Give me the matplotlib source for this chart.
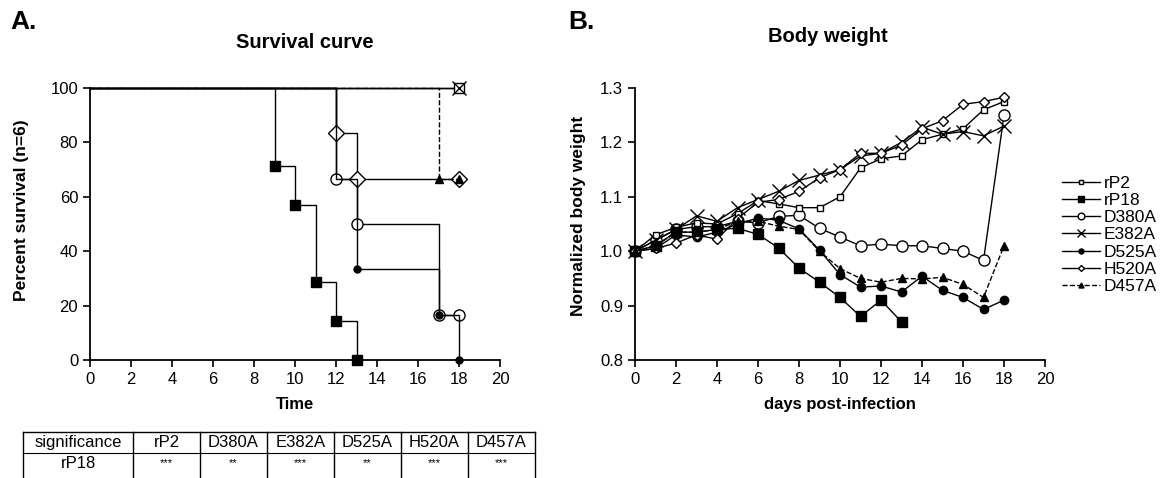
# -*- coding: utf-8 -*-
import numpy as np
import matplotlib.pyplot as plt
from matplotlib.lines import Line2D

plt.rcParams['font.family'] = ['Liberation Sans', 'DejaVu Sans']

# A. survival (time, percent) pour chaque groupe
rp2_t = [0, 18]
rp2_s = [100, 100]
rp18_t = [0, 9, 10, 11, 12, 13]
rp18_s = [100, 71.4, 57.1, 28.6, 14.3, 0]
d380a_t = [0, 12, 13, 17, 18]
d380a_s = [100, 66.7, 50, 16.7, 16.7]
e382a_t = [0, 18]
e382a_s = [100, 100]
d525a_t = [0, 12, 13, 17, 18]
d525a_s = [100, 66.7, 33.3, 16.7, 0]
h520a_t = [0, 12, 13, 18]
h520a_s = [100, 83.3, 66.7, 66.7]
d457a_t = [0, 17, 18]
d457a_s = [100, 66.7, 66.7]

# B. body weight
days = list(range(19))
rp2_w = [1.0, 1.03, 1.044, 1.052, 1.05, 1.069, 1.093, 1.087, 1.08, 1.08, 1.10,
         1.153, 1.17, 1.175, 1.205, 1.215, 1.225, 1.26, 1.275]
rp18_w = [1.0, 1.01, 1.035, 1.035, 1.04, 1.042, 1.031, 1.006, 0.969, 0.943,
          0.915, 0.880, 0.910, 0.870]
d380a_w = [1.0, 1.02, 1.04, 1.045, 1.045, 1.055, 1.052, 1.064, 1.066, 1.042,
           1.026, 1.01, 1.013, 1.01, 1.01, 1.005, 1.0, 0.983, 1.25]
e382a_w = [1.0, 1.02, 1.04, 1.065, 1.055, 1.08, 1.095, 1.11, 1.13, 1.14, 1.15,
           1.175, 1.18, 1.2, 1.228, 1.215, 1.22, 1.212, 1.23]
d525a_w = [1.0, 1.005, 1.03, 1.026, 1.035, 1.05, 1.061, 1.057, 1.041, 1.002,
           0.957, 0.934, 0.936, 0.925, 0.954, 0.928, 0.915, 0.893, 0.91]
h520a_w = [1.0, 1.005, 1.015, 1.03, 1.022, 1.06, 1.09, 1.095, 1.11, 1.135,
           1.15, 1.18, 1.18, 1.195, 1.225, 1.24, 1.27, 1.275, 1.283]
d457a_w = [1.0, 1.01, 1.035, 1.035, 1.04, 1.055, 1.055, 1.046, 1.04, 1.0,
           0.968, 0.95, 0.943, 0.95, 0.949, 0.952, 0.939, 0.915, 1.01]

# tableau de significativite
sig_row = 'rP18'
sig_cols = ['rP2', 'D380A', 'E382A', 'D525A', 'H520A', 'D457A']
sig_marks = ['***', '**', '***', '**', '***', '***']

W, H = 1163, 478
fig = plt.figure(figsize=(W / 100, H / 100), dpi=100)
axA = fig.add_axes([90 / W, 1 - 360 / H, 410 / W, 272 / H])
axB = fig.add_axes([635 / W, 1 - 360 / H, 410 / W, 272 / H])

for ax in (axA, axB):
    for s in ('top', 'right'):
        ax.spines[s].set_visible(False)
    for s in ('left', 'bottom'):
        ax.spines[s].set_linewidth(1.3)
    ax.tick_params(direction='out', length=5, width=1.2, labelsize=12)
    ax.set_xlim(0, 20)
    ax.set_xticks(np.arange(0, 21, 2))

k = dict(color='black', lw=1, clip_on=False)

def surv(t, s, marker, ms, mfc, ls='-', z=3, skip=()):
    axA.step(t, s, where='post', ls=ls, zorder=z, **k)
    idx = [i for i in range(1, len(t)) if i not in skip]
    axA.plot([t[i] for i in idx], [s[i] for i in idx], ls='none', marker=marker,
             ms=ms, mfc=mfc, mec='black', mew=1, clip_on=False, zorder=z + 1)

surv(rp2_t, rp2_s, 's', 7, 'white')
surv(e382a_t, e382a_s, 'x', 10, 'black')
surv(h520a_t, h520a_s, 'D', 8, 'white', z=5)
surv(d457a_t, d457a_s, '^', 6, 'black', ls='--', z=6)
surv(d380a_t, d380a_s, 'o', 8, 'white', z=5)
surv(d525a_t, d525a_s, 'o', 5, 'black', z=7, skip=(1,))
surv(rp18_t, rp18_s, 's', 7, 'black', z=7)

axA.set_ylim(0, 100)
axA.set_yticks(np.arange(0, 101, 20))
axA.set_xlabel('Time', fontsize=12, fontweight='bold')
axA.xaxis.set_label_coords(0.5, -0.135)
axA.set_ylabel('Percent survival (n=6)', fontsize=12.5, fontweight='bold')
axA.yaxis.set_label_coords(-0.15, 0.55)

lb = dict(color='black', lw=1, clip_on=False)
axB.plot(days, rp2_w, marker='s', ms=5, mfc='white', mec='black', label='rP2', zorder=4, **lb)
axB.plot(days[:len(rp18_w)], rp18_w, marker='s', ms=7, mfc='black', mec='black', label='rP18', zorder=4, **lb)
axB.plot(days, d380a_w, marker='o', ms=8, mfc='white', mec='black', label='D380A', zorder=3, **lb)
axB.plot(days, e382a_w, marker='x', ms=10, mew=1, mec='black', label='E382A', zorder=4, **lb)
axB.plot(days, d525a_w, marker='o', ms=6, mfc='black', mec='black', label='D525A', zorder=4, **lb)
axB.plot(days, h520a_w, marker='D', ms=5, mfc='white', mec='black', label='H520A', zorder=4, **lb)
axB.plot(days, d457a_w, marker='^', ms=6, mfc='black', mec='black', ls='--', label='D457A', zorder=4,
         color='black', lw=1, clip_on=False)

axB.set_ylim(0.8, 1.3)
axB.set_yticks(np.arange(0.8, 1.31, 0.1))
axB.yaxis.set_major_formatter(plt.FormatStrFormatter('%.1f'))
axB.set_xlabel('days post-infection', fontsize=12, fontweight='bold')
axB.xaxis.set_label_coords(0.5, -0.135)
axB.set_ylabel('Normalized body weight', fontsize=12.5, fontweight='bold')
axB.yaxis.set_label_coords(-0.12, 0.53)
axB.legend(loc='upper left', bbox_to_anchor=(1.02, 0.71), frameon=False, fontsize=12.5,
           handlelength=2.2, handletextpad=0.2, labelspacing=0.12, borderpad=0,
           markerscale=0.6)

fig.text(10 / W, 1 - 22 / H, 'A.', fontsize=19, fontweight='bold', va='center')
fig.text(568 / W, 1 - 22 / H, 'B.', fontsize=19, fontweight='bold', va='center')
fig.text(305 / W, 1 - 43 / H, 'Survival curve', fontsize=14.5, fontweight='bold',
         ha='center', va='center')
fig.text(828 / W, 1 - 37 / H, 'Body weight', fontsize=14.5, fontweight='bold',
         ha='center', va='center')

# tableau
xs = [23, 133] + [133 + 67 * (i + 1) for i in range(len(sig_cols))]
y_top, y_mid, y_bot = 432, 453, 478
fig.add_artist(Line2D([xs[0] / W, xs[-1] / W], [1 - y_top / H] * 2, color='black', lw=1))
fig.add_artist(Line2D([xs[0] / W, xs[-1] / W], [1 - y_mid / H] * 2, color='black', lw=0.8))
for x in xs:
    fig.add_artist(Line2D([x / W] * 2, [1 - y_top / H, 1 - y_bot / H], color='black', lw=1))
fig.text((xs[0] + xs[1]) / 2 / W, 1 - 442.5 / H, 'significance', fontsize=12,
         ha='center', va='center')
fig.text((xs[0] + xs[1]) / 2 / W, 1 - 464 / H, sig_row, fontsize=12,
         ha='center', va='center')
for i, (c, m) in enumerate(zip(sig_cols, sig_marks)):
    xc = (xs[i + 1] + xs[i + 2]) / 2 / W
    fig.text(xc, 1 - 442.5 / H, c, fontsize=12, ha='center', va='center')
    fig.text(xc, 1 - 463 / H, m, fontsize=8, ha='center', va='center')

fig.savefig('out.png', dpi=100)
